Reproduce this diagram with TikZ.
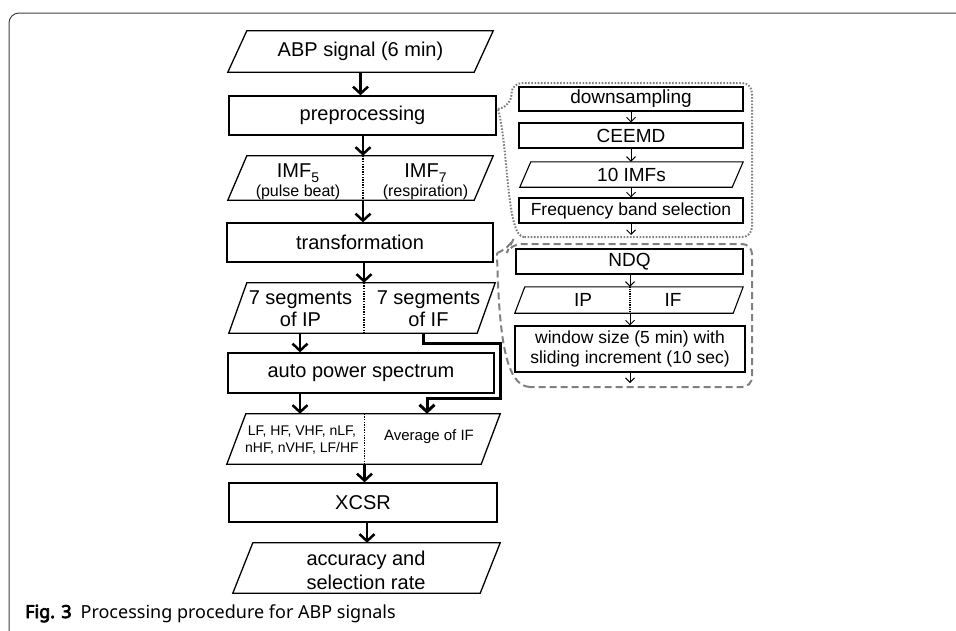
\documentclass[tikz,border=0pt]{standalone}
\usepackage{fontspec}
\setmainfont{Liberation Sans}
\newfontfamily\capfont{Noto Sans}
\newfontfamily\capbold{Noto Sans}[FakeBold=4]
\usetikzlibrary{arrows.meta,calc}
\newcommand\parashape[3][1.3pt]{\draw[line width=#1] ([xshift=#3]#2.north west) -- (#2.north east) -- ([xshift=-#3]#2.south east) -- (#2.south west) -- cycle;}
\begin{document}
\begin{tikzpicture}[x=1pt,y=-1pt,
 box/.style={draw, line width=1.3pt, inner sep=0pt, font=\fontsize{20}{22}\selectfont},
 pbox/.style={inner sep=0pt, font=\fontsize{20}{22}\selectfont},
 sbox/.style={draw, line width=1.1pt, inner sep=0pt, font=\fontsize{17.5}{20}\selectfont},
 spbox/.style={inner sep=0pt, font=\fontsize{17.5}{20}\selectfont},
 txt/.style={inner sep=0pt, align=center},
 arr/.style={line width=2.5pt, -{Straight Barb[length=7pt,width=15pt]}},
 sarr/.style={line width=1pt, -{Straight Barb[length=4.5pt,width=9pt]}},
 divl/.style={line width=1.3pt, dash pattern=on 1.3pt off 1.3pt},
 dotbox/.style={draw=gray, line width=2pt, dash pattern=on 1.6pt off 1.6pt},
 dashbox/.style={draw=gray, line width=2pt, dash pattern=on 7pt off 4pt}]
\useasboundingbox (0,0) rectangle (956,630);
% frame
\draw[line width=1pt, black!75, rounded corners=10pt] (960,13) -- (9,13) -- (9,634);

% main column
\node[pbox, minimum width=265pt, minimum height=41pt] (abp) at (360.5,51.5) {ABP signal (6 min)};
\parashape{abp}{19pt}
\node[box, minimum width=267pt, minimum height=39pt] (pre) at (362.5,115.5) {preprocessing};
\node[pbox, minimum width=265pt, minimum height=44pt] (imf) at (360.5,178) {};
\parashape{imf}{19pt}
\node[box, minimum width=266pt, minimum height=39pt] (trans) at (360,242.5) {transformation};
\node[pbox, minimum width=266pt, minimum height=50pt] (seg) at (362,308) {};
\parashape{seg}{18pt}
\node[box, minimum width=266pt, minimum height=40pt] (aps) at (361,373) {auto power spectrum};
\node[pbox, minimum width=273pt, minimum height=50pt] (lf) at (363.5,439) {};
\parashape{lf}{19pt}
\node[box, minimum width=268pt, minimum height=39pt] (xcsr) at (363,502.5) {XCSR};
\node[pbox, minimum width=267pt, minimum height=50pt] (acc) at (366.5,568) {};
\parashape{acc}{20pt}

% texts inside parallelograms
\node[txt, font=\fontsize{20}{19.5}\selectfont] (imfL) at (298,182) {IMF\raisebox{-0.25em}{\fontsize{14}{14}\selectfont 5}\\{\fontsize{16}{16}\selectfont (pulse beat)}};
\node[txt, font=\fontsize{20}{19.5}\selectfont] (imfR) at (425.5,182) {IMF\raisebox{-0.25em}{\fontsize{14}{14}\selectfont 7}\\{\fontsize{16}{16}\selectfont (respiration)}};
\node[txt, font=\fontsize{20}{22}\selectfont] (segL) at (300.5,309) {7 segments\\of IP};
\node[txt, font=\fontsize{20}{22}\selectfont] (segR) at (428.5,309) {7 segments\\of IF};
\node[txt, font=\fontsize{14}{17}\selectfont] (lfL) at (302,440) {LF, HF, VHF, nLF,\\nHF, nVHF, LF/HF};
\node[txt, font=\fontsize{15}{17}\selectfont] (lfR) at (429,437) {Average of IF};
\node[txt, font=\fontsize{20}{24}\selectfont] (accT) at (366,570) {accuracy and\\selection rate};

% dividers
\coordinate (dimf) at (363,0);
\coordinate (dseg) at (364,0);
\coordinate (dlf) at (364.5,0);
\coordinate (cip) at (300,0);
\coordinate (cacc) at (367,0);
\draw[divl] (imf.north -| dimf) -- (imf.south -| dimf);
\draw[divl] (seg.north -| dseg) -- (seg.south -| dseg);
\draw[divl] (lf.north -| dlf) -- (lf.south -| dlf);

% main arrows
\draw[arr] (abp.south) -- (pre.north -| abp.south);
\draw[arr] (pre.south -| dimf) -- (imf.north -| dimf);
\draw[arr] (imf.south -| dimf) -- (trans.north -| dimf);
\draw[arr] (trans.south -| dseg) -- (seg.north -| dseg);
\draw[arr] (seg.south -| cip) -- (aps.north -| cip);
\draw[arr] (aps.south -| cip) -- (lf.north -| cip);
\draw[arr] (lf.south -| dlf) -- (xcsr.north -| dlf);
\draw[arr] (xcsr.south -| cacc) -- (acc.north -| cacc);
\coordinate (if1) at (423,343);
\coordinate (if2) at (500,398);
\coordinate (if3) at (427,0);
\draw[line width=3pt, -{Straight Barb[length=7pt,width=15pt]}] (seg.south -| if1) |- (if1) -| (if2) -| (lf.north -| if3);

% right: dotted callout
\draw[dotbox, rounded corners=10pt] (498,109) -- (511,105) -- (512,83) -- (752,83) -- (752,237) -- (524,237);
\draw[dotbox] (524,237) .. controls (506,236) and (509,150) .. (498,109);
\node[sbox, minimum width=224pt, minimum height=24pt, font=\fontsize{19}{20}\selectfont] (down) at (631,99) {downsampling};
\node[sbox, minimum width=224pt, minimum height=25pt, font=\fontsize{19}{20}\selectfont] (ceemd) at (631,135.5) {CEEMD};
\node[spbox, minimum width=223pt, minimum height=25pt, font=\fontsize{19}{20}\selectfont] (imfs) at (631.5,174.5) {10 IMFs};
\parashape[1.1pt]{imfs}{11pt}
\node[sbox, minimum width=224pt, minimum height=25pt] (fbs) at (631,210.5) {Frequency band selection};
\coordinate (fbsout) at (631,235);
\draw[sarr] (down.south) -- (ceemd.north);
\draw[sarr] (ceemd.south) -- (imfs.north -| ceemd.south);
\draw[sarr] (imfs.south -| ceemd.south) -- (fbs.north);
\draw[sarr] (fbs.south) -- (fbsout);

% right: dashed callout
\draw[dashbox, rounded corners=10pt] (497,253) -- (509,248) -- (511,244) -- (752,244) -- (752,387) -- (530,387);
\draw[dashbox] (530,387) .. controls (506,386) and (499,340) .. (497,253);
\node[sbox, minimum width=227pt, minimum height=25pt, font=\fontsize{19}{20}\selectfont] (ndq) at (629.5,261.5) {NDQ};
\node[spbox, minimum width=228pt, minimum height=26pt] (ipif) at (629,300) {};
\parashape[1.1pt]{ipif}{10pt}
\node[txt, font=\fontsize{19}{20}\selectfont] (ipT) at (583,300) {IP};
\node[txt, font=\fontsize{19}{20}\selectfont] (ifT) at (673,300) {IF};
\node[sbox, minimum width=230pt, minimum height=46pt, align=center] (win) at (630,349) {window size (5 min) with\\sliding increment (10 sec)};
\coordinate (dip) at (630,0);
\coordinate (winout) at (630,383);
\draw[divl, line width=1.1pt, dash pattern=on 1.1pt off 1.1pt] (ipif.north -| dip) -- (ipif.south -| dip);
\draw[sarr] (ndq.south -| dip) -- (ipif.north -| dip);
\draw[sarr] (ipif.south -| dip) -- (win.north -| dip);
\draw[sarr] (win.south -| dip) -- (winout);

% caption
\node[anchor=base west, inner sep=0pt, font=\capfont\fontsize{18}{20}\selectfont] (cap) at (25,618) {{\capbold Fig. 3}\hspace{9pt}Processing procedure for ABP signals};
\end{tikzpicture}
\end{document}
